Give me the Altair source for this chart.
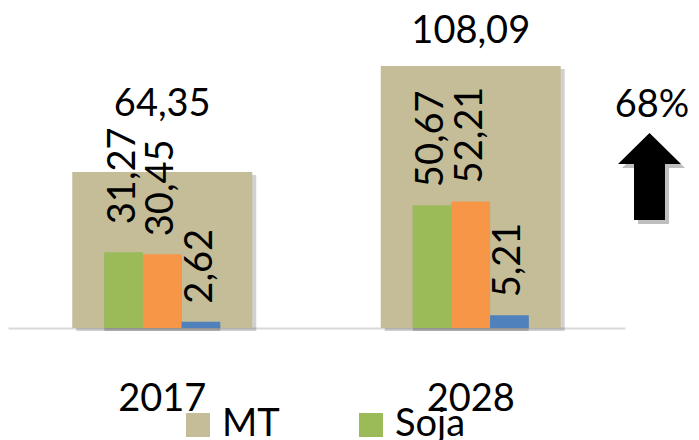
import altair as alt
import pandas as pd

years = ["2017", "2028"]
mt = [64.35, 108.09]
soja = [31.27, 50.67]
milho = [30.45, 52.21]
algodao = [2.62, 5.21]

series_names = ["MT", "Soja", "Milho", "Algodão"]
series_colors = ["#c4bd97", "#9bbb59", "#f79646", "#4f81bd"]
inner_names = ["Soja", "Milho", "Algodão"]

FONT = "Lato"
FS = 38

mt_df = pd.DataFrame({"year": years, "value": mt, "series": "MT"})
rows = []
for name, vals in zip(inner_names, [soja, milho, algodao]):
    for y, v in zip(years, vals):
        rows.append({"year": y, "series": name, "value": v})
inner_df = pd.DataFrame(rows)

growth = round((mt[1] / mt[0] - 1) * 100)
note_df = pd.DataFrame({"label": [f"{growth}%"]})

color = alt.Color(
    "series:N",
    scale=alt.Scale(domain=series_names, range=series_colors),
    legend=alt.Legend(
        values=["MT", "Soja"], title=None, orient="none", direction="horizontal",
        legendX=171, legendY=392, symbolType="square", symbolSize=576,
        symbolStrokeWidth=0, labelFontSize=FS, labelFont=FONT, labelColor="black",
        labelOffset=5, columnPadding=72, labelLimit=300,
    ),
)

x = alt.X(
    "year:N", title=None, sort=years,
    scale=alt.Scale(paddingInner=0.624, paddingOuter=0.312),
    axis=alt.Axis(labelAngle=0, labelFontSize=FS, labelFont=FONT, labelColor="black",
                  ticks=False, grid=False, domainColor="#d9d9d9", domainWidth=2,
                  labelPadding=52),
)
y = alt.Y("value:Q", scale=alt.Scale(domain=[0, 129.5]), axis=None)
xoff = alt.XOffset("series:N", sort=inner_names, scale=alt.Scale(domain=inner_names))

label_expr = "replace(format(datum.value, '.2f'), '.', ',')"
first_soja = (alt.datum.series == "Soja") & (alt.datum.year == years[0])

mt_shadow = alt.Chart(mt_df).mark_bar(size=180, color="#000000", opacity=0.18, xOffset=4, yOffset=3).encode(x=x, y=y)
mt_bars = alt.Chart(mt_df).mark_bar(size=180).encode(x=x, y=y, color=color)

inner_shadow = alt.Chart(inner_df).mark_bar(color="#000000", opacity=0.18, xOffset=4, yOffset=3).encode(x=x, xOffset=xoff, y=y)
inner_bars = alt.Chart(inner_df).mark_bar().encode(x=x, xOffset=xoff, y=y, color=color)

mt_text_a = alt.Chart(mt_df).transform_filter(alt.datum.year == years[0]).transform_calculate(
    lbl=label_expr).mark_text(fontSize=FS, font=FONT, color="black", baseline="alphabetic", dy=-56).encode(x=x, y=y, text="lbl:N")
mt_text_b = alt.Chart(mt_df).transform_filter(alt.datum.year == years[1]).transform_calculate(
    lbl=label_expr).mark_text(fontSize=FS, font=FONT, color="black", baseline="alphabetic", dy=-23).encode(x=x, y=y, text="lbl:N")

inner_text = alt.Chart(inner_df).transform_filter(~first_soja).transform_calculate(lbl=label_expr).mark_text(
    fontSize=FS, font=FONT, color="black", angle=270, align="left", baseline="middle", dx=18
).encode(x=x, xOffset=xoff, y=y, text="lbl:N")
inner_text_b = alt.Chart(inner_df).transform_filter(first_soja).transform_calculate(lbl=label_expr).mark_text(
    fontSize=FS, font=FONT, color="black", angle=270, align="left", baseline="middle", dx=28
).encode(x=x, xOffset=xoff, y=y, text="lbl:N")

growth_text = alt.Chart(note_df).mark_text(fontSize=FS, font=FONT, color="black", baseline="alphabetic").encode(
    x=alt.value(644), y=alt.value(103), text="label:N")

arrow_path = "M0,-1 L0.724,-0.287 L0.356,-0.287 L0.356,1 L-0.356,1 L-0.356,-0.287 L-0.724,-0.287 Z"
arrow_shadow = alt.Chart(note_df).mark_point(shape=arrow_path, filled=True, color="#000000", opacity=0.25, size=7569, strokeWidth=0).encode(
    x=alt.value(645.5), y=alt.value(166.5))
arrow = alt.Chart(note_df).mark_point(shape=arrow_path, filled=True, color="#000000", opacity=1, size=7569, strokeWidth=0).encode(
    x=alt.value(641.5), y=alt.value(162.5))

chart = alt.layer(
    mt_shadow, mt_bars, inner_shadow, inner_bars, mt_text_a, mt_text_b, inner_text, inner_text_b,
    growth_text, arrow_shadow, arrow
).properties(
    width=617, height=314,
    background="white",
    autosize=alt.AutoSizeParams(type="none"),
    padding={"left": 0, "top": 6, "right": 66, "bottom": 112},
).configure_view(strokeWidth=0, stroke="transparent")

chart.save("out.html", embed_options={"renderer": "svg", "actions": False})
